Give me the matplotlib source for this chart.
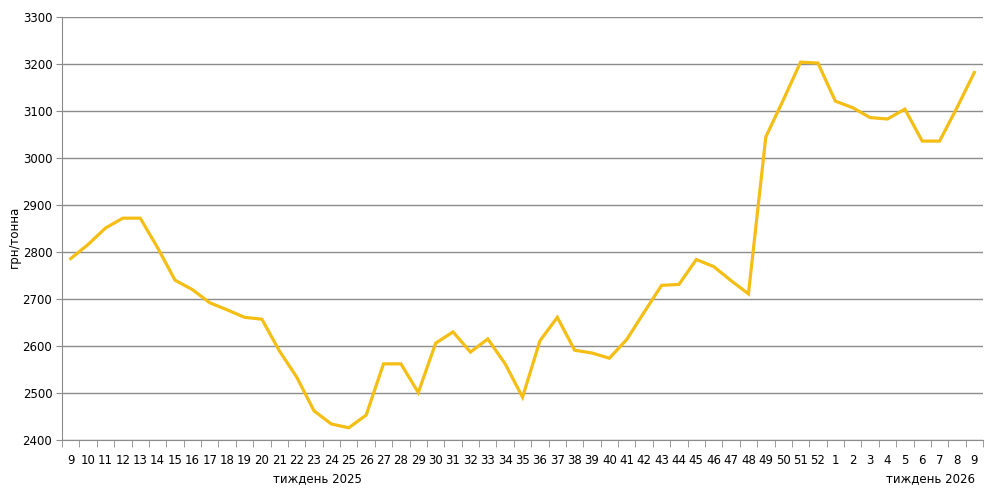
import matplotlib
matplotlib.use('Agg')
import matplotlib.pyplot as plt
from matplotlib.ticker import FixedLocator

weeks = [str(w) for w in range(9, 53)] + [str(w) for w in range(1, 10)]
prices = [2786, 2816, 2851, 2872, 2872, 2809, 2740, 2720, 2692, 2677,
          2661, 2657, 2590, 2534, 2462, 2434, 2426, 2453, 2562, 2562,
          2501, 2606, 2630, 2587, 2615, 2562, 2491, 2611, 2661, 2591,
          2585, 2574, 2614, 2672, 2729, 2731, 2784, 2769, 2739, 2711,
          3045, 3123, 3204, 3202, 3121, 3107, 3086, 3083, 3104, 3036,
          3036, 3107, 3182]
yticks = list(range(2400, 3301, 100))
year_labels = ['тиждень 2025', 'тиждень 2026']

fig = plt.figure(figsize=(9.85, 4.97), dpi=100)
ax = fig.add_axes([0.063, 0.1147, 0.935, 0.8511])

x = list(range(len(weeks)))
ax.plot(x, prices, color='#F4BE14', linewidth=2.3, solid_joinstyle='miter')

ax.set_xlim(-0.5, len(weeks) - 0.5)
ax.set_ylim(2400, 3300)
ax.set_yticks(yticks)
ax.set_yticklabels([str(t) for t in yticks], fontsize=8.5)
ax.grid(axis='y', color='#8c8c8c', linewidth=1)
ax.set_axisbelow(True)

ax.set_xticks(x)
ax.set_xticklabels(weeks, fontsize=8.5)
ax.xaxis.set_minor_locator(FixedLocator([i - 0.5 for i in range(len(weeks) + 1)]))
ax.tick_params(axis='x', which='major', length=0, pad=10)
ax.tick_params(axis='x', which='minor', length=5, color='#8c8c8c', direction='out')
ax.tick_params(axis='y', length=4, color='#8c8c8c', pad=3)

for side in ['top', 'right']:
    ax.spines[side].set_visible(False)
for side in ['left', 'bottom']:
    ax.spines[side].set_color('#8c8c8c')

fig.text(14 / 985, 1 - 237 / 497, 'грн/тонна', fontsize=8.5, rotation=90,
         ha='center', va='center')

fig.text(317 / 985, 1 - 479 / 497, year_labels[0], fontsize=8.5, ha='center', va='center')
fig.text(930 / 985, 1 - 479 / 497, year_labels[1], fontsize=8.5, ha='center', va='center')

fig.savefig('out.png', dpi=100)
